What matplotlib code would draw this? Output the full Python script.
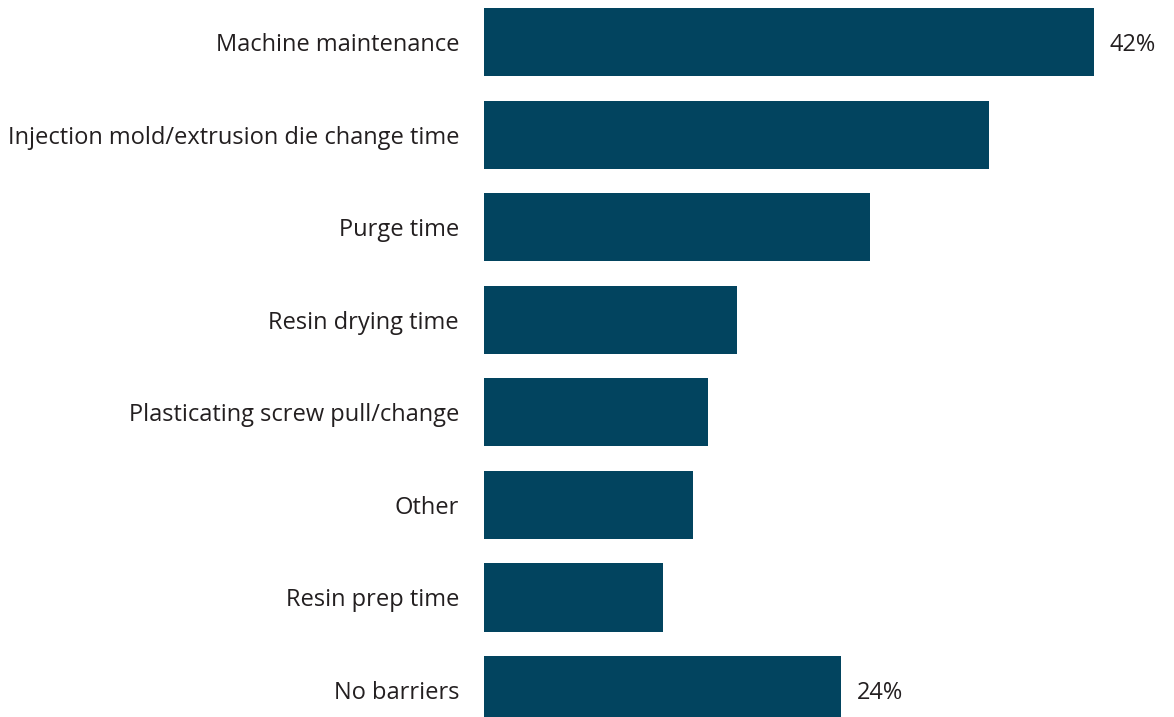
import matplotlib.pyplot as plt

categories = ['Machine maintenance', 'Injection mold/extrusion die change time', 'Purge time',
              'Resin drying time', 'Plasticating screw pull/change', 'Other',
              'Resin prep time', 'No barriers']
values = [42.0, 34.8, 26.6, 17.4, 15.4, 14.4, 12.3, 24.6]
value_labels = ['42%', '', '', '', '', '', '', '24%']

plt.rcParams['font.family'] = ['Open Sans', 'DejaVu Sans']

fig = plt.figure(figsize=(11.74, 7.17), dpi=100)
ax = fig.add_axes([484 / 1174, 0, 1 - 484 / 1174, 1 - 8 / 717])

pos = list(range(len(categories)))
ax.barh(pos, values, height=0.735, color='#02445f')
ax.set_ylim(7.291, -0.3675)
ax.set_xlim(0, 690 / (610 / 42))

ax.set_yticks(pos)
ax.set_yticklabels(categories, fontsize=17, color='#231f20', va='center_baseline')
ax.tick_params(axis='y', length=0, pad=18)
ax.set_xticks([])
for s in ax.spines.values():
    s.set_visible(False)

for p, v, lab in zip(pos, values, value_labels):
    if lab:
        ax.annotate(lab, (v, p), xytext=(11, 0), textcoords='offset points',
                    va='center_baseline', ha='left', fontsize=17, color='#231f20')

fig.savefig('out.png', dpi=100)
